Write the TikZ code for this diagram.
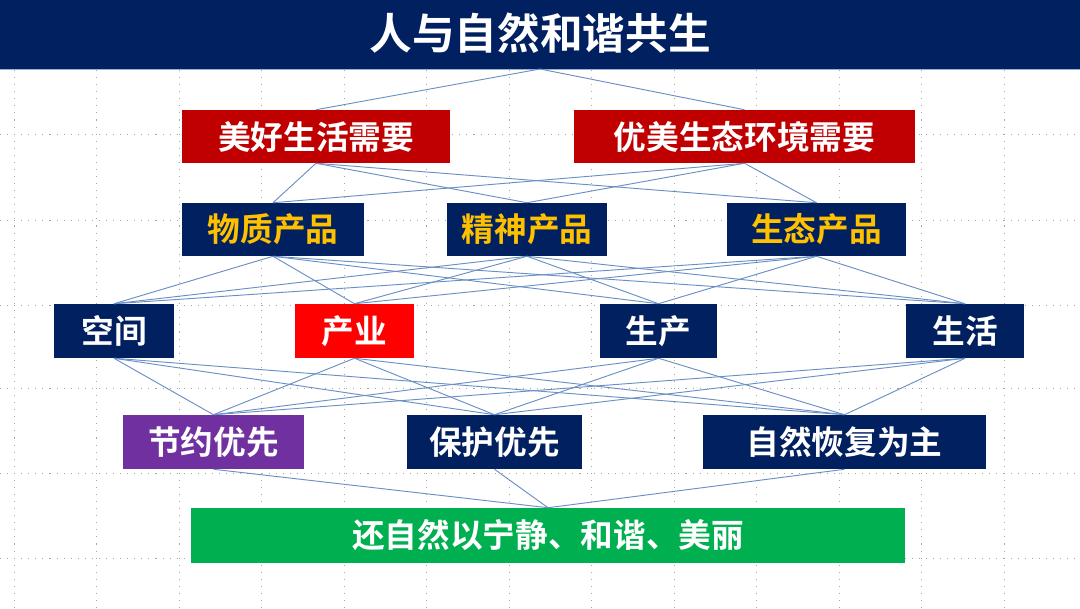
\documentclass[tikz,border=0pt]{standalone}
\usepackage{fontspec}
\setmainfont{Noto Sans CJK SC}[BoldFont={* Bold}]
\begin{document}
\begin{tikzpicture}[x=0.75pt,y=-0.75pt,
 bx/.style={draw=none,inner sep=0,font=\bfseries\fontsize{24.5}{26}\selectfont,text=white},
 ln/.style={draw=lineblue,line width=0.7pt},
 grd/.style={gray!70,line width=0.7pt,dash pattern=on 0.8pt off 4.5pt}]
\definecolor{navy}{HTML}{002060}\definecolor{lineblue}{HTML}{6A8FC4}
\definecolor{gold}{HTML}{FFC000}\definecolor{purp}{HTML}{7030A0}
\definecolor{grn}{HTML}{00B050}\definecolor{dred}{HTML}{C00000}
\useasboundingbox (0,0) rectangle (1080,609);
\fill[white] (0,0) rectangle (1080,609);
\foreach \y in {134,220,305,388,473,558} \draw[grd] (0,\y)--(1080,\y);
\foreach \i in {0,...,12} \draw[grd] (14+82.5*\i,70)--(14+82.5*\i,609);
\fill[navy] (0,0) rectangle (1080,69);
\draw[lineblue!70,line width=1pt] (0,69.5)--(1080,69.5);
\node[font=\bfseries\fontsize{32}{34}\selectfont,text=white] (title) at (540,33) {人与自然和谐共生};
\coordinate (tb) at (540,69);
\newcommand\bx[7]{\node[bx,fill=#6,text=#7,minimum width=(#3-#2)*0.75pt,minimum height=(#5-#4)*0.75pt] (#1) at ({(#2+#3)/2},{(#4+#5)/2}) {#1};}
\bx{美好生活需要}{182}{450}{110}{163}{dred}{white}
\bx{优美生态环境需要}{574}{915}{110}{163}{dred}{white}
\bx{物质产品}{182}{364}{203}{256}{navy}{gold}
\bx{精神产品}{447}{607}{203}{256}{navy}{gold}
\bx{生态产品}{727}{906}{203}{256}{navy}{gold}
\bx{空间}{54}{174}{304}{358}{navy}{white}
\bx{产业}{295}{414}{304}{358}{red}{white}
\bx{生产}{600}{717}{304}{358}{navy}{white}
\bx{生活}{906}{1024}{304}{358}{navy}{white}
\bx{节约优先}{123}{304}{415}{469}{purp}{white}
\bx{保护优先}{407}{582}{415}{469}{navy}{white}
\bx{自然恢复为主}{703}{986}{415}{469}{navy}{white}
\bx{还自然以宁静、和谐、美丽}{191}{905}{508}{563}{grn}{white}
\foreach \a in {美好生活需要,优美生态环境需要} \draw[ln] (tb)--(\a.north);
\foreach \a in {美好生活需要,优美生态环境需要} \foreach \b in {物质产品,精神产品,生态产品} \draw[ln] (\a.south)--(\b.north);
\foreach \a in {物质产品,精神产品,生态产品} \foreach \b in {空间,产业,生产,生活} \draw[ln] (\a.south)--(\b.north);
\foreach \a in {空间,产业,生产,生活} \foreach \b in {节约优先,保护优先,自然恢复为主} \draw[ln] (\a.south)--(\b.north);
\foreach \a in {节约优先,保护优先,自然恢复为主} \draw[ln] (\a.south)--(还自然以宁静、和谐、美丽.north);
\end{tikzpicture}
\end{document}
